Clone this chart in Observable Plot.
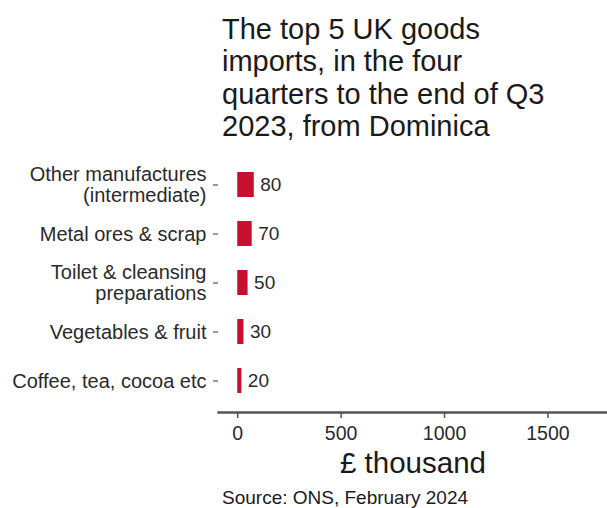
<!DOCTYPE html>
<html>
<head>
<meta charset="utf-8">
<script src="https://cdn.jsdelivr.net/npm/d3@7"></script>
<script src="https://cdn.jsdelivr.net/npm/@observablehq/plot@0.6"></script>
<style>
  html, body { margin: 0; padding: 0; background: #fff; }
  body { width: 607px; height: 508px; overflow: hidden; font-family: "Liberation Sans", Arial, sans-serif; }
  #title { margin: 13px 0 0 222px; font-size: 29px; line-height: 32.3px; color: #1a1a1a; white-space: nowrap; }
  #chart svg { display: block; }
  #source { margin: 2px 0 0 222px; font-size: 19px; line-height: 22px; color: #1a1a1a; }
</style>
</head>
<body>
<div id="title">The top 5 UK goods<br>imports, in the four<br>quarters to the end of Q3<br>2023, from Dominica</div>
<div id="chart"></div>
<div id="source">Source: ONS, February 2024</div>
<script>
const categories = [
  "Other manufactures\n(intermediate)",
  "Metal ores & scrap",
  "Toilet & cleansing\npreparations",
  "Vegetables & fruit",
  "Coffee, tea, cocoa etc"
];
const values = [80, 70, 50, 30, 20];
const xTicks = [0, 500, 1000, 1500];
const xLabel = "£ thousand";

const data = categories.map((c, i) => ({category: c, value: values[i]}));

const chart = Plot.plot({
  width: 607,
  height: 343,
  marginLeft: 218,
  marginRight: 0,
  marginTop: 11,
  marginBottom: 73,
  style: {fontFamily: "Liberation Sans, Arial, sans-serif", color: "#2a2a2a", background: "#fff"},
  x: {domain: [-93, 1788]},
  y: {domain: categories, paddingInner: 0.5, paddingOuter: 0.35},
  marks: [
    Plot.barX(data, {x: "value", y: "category", fill: "#c8102e"}),
    Plot.text(data, {x: "value", y: "category", text: d => String(d.value), textAnchor: "start", dx: 6, fontSize: 19, fill: "#2a2a2a"}),
    Plot.frame({anchor: "bottom", stroke: "#555", strokeWidth: 2.5}),
    Plot.axisX({ticks: xTicks, tickFormat: d => String(d), tickSize: 6, tickPadding: 8, fontSize: 19.5, label: null, stroke: "#555", strokeWidth: 1.5}),
    Plot.axisY({tickSize: 5, tickPadding: 7, fontSize: 20, label: null, lineHeight: 1.06, stroke: "#333"}),
    Plot.text([xLabel], {frameAnchor: "bottom", dy: 60, fontSize: 29.5, fill: "#1a1a1a"})
  ]
});
document.getElementById("chart").appendChild(chart);
</script>
</body>
</html>
